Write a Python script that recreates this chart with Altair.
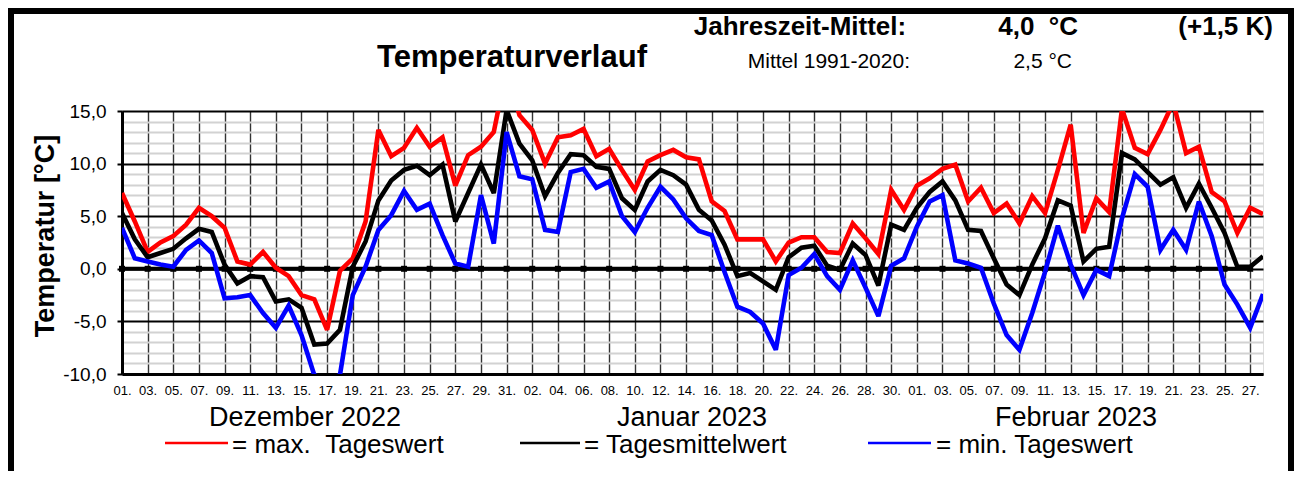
import altair as alt
import pandas as pd

# ---------------- data ----------------
days = list(range(1, 91))  # 01.12.2022 ... 28.02.2023

t_max = [7.2, 4.5, 1.6, 2.5, 3.1, 4.2, 5.8, 5.0, 3.9, 0.7,
         0.4, 1.6, 0.1, -0.7, -2.5, -2.9, -5.8, -0.2, 1.0, 4.5,
         13.2, 10.7, 11.5, 13.4, 11.6, 12.5, 7.9, 10.8, 11.6, 13.0,
         19.0, 14.6, 13.2, 10.0, 12.5, 12.7, 13.3, 10.7, 11.4, 9.4,
         7.5, 10.2, 10.8, 11.3, 10.6, 10.4, 6.4, 5.5, 2.8, 2.8,
         2.8, 0.7, 2.5, 3.0, 3.0, 1.6, 1.5, 4.3, 2.9, 1.4,
         7.5, 5.6, 7.9, 8.6, 9.5, 9.9, 6.4, 7.7, 5.3, 6.2,
         4.3, 6.9, 5.3, 9.4, 13.7, 3.4, 6.7, 5.4, 15.2, 11.5,
         10.9, 13.2, 15.8, 11.0, 11.6, 7.3, 6.4, 3.4, 5.8, 5.2]

t_mean = [5.3, 2.8, 1.1, 1.5, 1.9, 2.9, 3.8, 3.5, 0.4, -1.4,
          -0.7, -0.8, -3.1, -2.9, -3.7, -7.2, -7.1, -5.8, 0.2, 2.6,
          6.5, 8.4, 9.4, 9.8, 8.9, 9.9, 4.5, 7.2, 9.9, 7.2,
          15.1, 11.9, 10.3, 6.9, 9.1, 10.9, 10.8, 9.7, 9.5, 6.7,
          5.6, 8.3, 9.4, 8.9, 8.0, 5.6, 4.6, 2.3, -0.7, -0.4,
          -1.2, -2.0, 1.1, 2.0, 2.2, 0.3, -0.1, 2.4, 1.3, -1.6,
          4.2, 3.7, 5.8, 7.3, 8.3, 6.5, 3.7, 3.6, 1.0, -1.5,
          -2.5, 0.4, 2.9, 6.5, 6.0, 0.7, 1.9, 2.1, 11.0, 10.4,
          9.2, 8.0, 8.7, 5.8, 8.1, 5.8, 3.4, 0.2, 0.2, 1.2]

t_min = [3.9, 1.0, 0.7, 0.4, 0.2, 1.8, 2.7, 1.5, -2.8, -2.7,
         -2.5, -4.2, -5.6, -3.5, -6.3, -10.1, -10.6, -10.1, -2.5, 0.2,
         3.7, 5.1, 7.4, 5.6, 6.2, 3.2, 0.5, 0.2, 7.0, 2.4,
         13.0, 8.8, 8.5, 3.7, 3.5, 9.2, 9.5, 7.7, 8.3, 5.0,
         3.5, 5.8, 7.8, 6.6, 4.8, 3.6, 3.2, -0.3, -3.6, -4.1,
         -5.2, -7.7, -0.6, 0.1, 1.4, -0.7, -2.0, 0.8, -1.8, -4.5,
         0.3, 1.0, 4.0, 6.4, 7.0, 0.8, 0.5, 0.1, -3.3, -6.3,
         -7.7, -4.2, -0.3, 4.1, 0.4, -2.5, -0.1, -0.7, 4.8, 9.0,
         7.8, 1.8, 3.7, 1.8, 6.4, 3.1, -1.5, -3.4, -5.6, -2.4]

tick_days = list(range(1, 90, 2))
tick_labels = ["01.", "03.", "05.", "07.", "09.", "11.", "13.", "15.", "17.", "19.",
               "21.", "23.", "25.", "27.", "29.", "31.", "02.", "04.", "06.", "08.",
               "10.", "12.", "14.", "16.", "18.", "20.", "22.", "24.", "26.", "28.",
               "30.", "01.", "03.", "05.", "07.", "09.", "11.", "13.", "15.", "17.",
               "19.", "21.", "23.", "25.", "27."]
y_ticks = list(range(-10, 16))

months = ["Dezember 2022", "Januar 2023", "Februar 2023"]
legend_texts = ["= max.\u00a0\u00a0Tageswert", "= Tagesmittelwert", "= min. Tageswert"]
colors = ["#ff0000", "#000000", "#0000ff"]

# ---------------- layout ----------------
FONT = "Liberation Sans"
W, H = 1141, 263
OX, OY = 122, 111  # page position of plot origin

df = pd.DataFrame({"day": days, "tmax": t_max, "tmean": t_mean, "tmin": t_min})
zero_df = pd.DataFrame({"day": tick_days, "z": [0] * len(tick_days)})

label_arr = "[" + ",".join("'" + t + "'" for t in tick_labels) + "]"

x_axis = alt.Axis(
    values=tick_days, grid=True, gridColor="#333333", gridWidth=1.4,
    ticks=False, domain=True, domainColor="black", domainWidth=3,
    labelExpr=label_arr + "[(datum.value - 1) / 2]",
    labelFont=FONT, labelFontSize=13, labelColor="black", labelPadding=10,
    labelOverlap=False, labelFlush=False, title=None,
)
major = "datum.value % 5 === 0"
y_axis = alt.Axis(
    values=y_ticks, grid=True,
    gridColor={"condition": {"test": major, "value": "black"}, "value": "#d2d2d2"},
    gridWidth={"condition": {"test": major, "value": 2}, "value": 1.8},
    tickColor={"condition": {"test": major, "value": "black"}, "value": "transparent"},
    tickSize=5, tickWidth=2,
    domain=True, domainColor="black", domainWidth=3,
    labelExpr=major + " ? (datum.value < 0 ? '-' : '') + abs(datum.value) + ',0' : ''",
    labelFont=FONT, labelFontSize=19, labelColor="black", labelPadding=11,
    labelOverlap=False, labelFlush=False, title=None,
)
x_enc = alt.X("day:Q", scale=alt.Scale(domain=[1, 90], nice=False, zero=False), axis=x_axis)


def y_enc(field):
    return alt.Y(field + ":Q", scale=alt.Scale(domain=[-10, 15], nice=False, zero=False), axis=y_axis)


def series(field, color):
    return alt.Chart(df).mark_line(color=color, strokeWidth=4.6, clip=True,
                                   strokeJoin="miter", strokeMiterLimit=3).encode(x=x_enc, y=y_enc(field))


zero_line = alt.Chart(zero_df).mark_line(color="black", strokeWidth=4).encode(x=x_enc, y=y_enc("z"))
zero_pts = alt.Chart(zero_df).mark_point(shape="square", filled=True, size=36, color="black",
                                         opacity=1).encode(x=x_enc, y=y_enc("z"))

one = pd.DataFrame({"a": [0]})


def txt(s, px, py, size, bold=False, align="center", angle=0):
    return alt.Chart(one).mark_text(
        text=s, font=FONT, fontSize=size, fontWeight="bold" if bold else "normal",
        align=align, baseline="middle", angle=angle, color="black",
    ).encode(x=alt.value(px - OX), y=alt.value(py - OY))


def hline(x1, x2, py, color, w):
    return alt.Chart(one).mark_rule(color=color, strokeWidth=w).encode(
        x=alt.value(x1 - OX), x2=alt.value(x2 - OX), y=alt.value(py - OY))


frame = alt.Chart(one).mark_rect(fill="transparent", stroke="black", strokeWidth=6).encode(
    x=alt.value(11 - OX), x2=alt.value(1291 - OX),
    y=alt.value(11 - OY), y2=alt.value(490 - OY))

annotations = [
    txt("Temperaturverlauf", 512, 58, 31, bold=True),
    txt("Jahreszeit-Mittel:", 800, 27, 26, bold=True),
    txt("4,0\u00a0 °C", 1078, 27, 26, bold=True, align="right"),
    txt("(+1,5 K)", 1273, 27, 26, bold=True, align="right"),
    txt("Mittel 1991-2020:", 910, 62, 21, align="right"),
    txt("2,5 °C", 1072, 62, 21, align="right"),
    txt("Temperatur [°C]", 46, 236, 27, bold=True, angle=270),
    txt(months[0], 305, 418, 27),
    txt(months[1], 692, 418, 27),
    txt(months[2], 1076, 418, 27),
    hline(165, 228, 443, colors[0], 2.5),
    hline(520, 580, 443, colors[1], 2.5),
    hline(868, 931, 443, colors[2], 2.5),
    txt(legend_texts[0], 232, 445, 26, align="left"),
    txt(legend_texts[1], 584, 445, 26, align="left"),
    txt(legend_texts[2], 936, 445, 26, align="left"),
    frame,
]

chart = alt.layer(
    zero_line, zero_pts,
    series("tmax", colors[0]), series("tmean", colors[1]), series("tmin", colors[2]),
    *annotations,
).properties(
    width=W, height=H,
    autosize=alt.AutoSizeParams(type="none"),
    padding={"left": 114, "top": 103, "right": 31, "bottom": 97},
    background="white",
).configure_view(
    stroke="black", strokeWidth=3,
).configure(font=FONT)

chart.save("out.html", embed_options={"renderer": "svg", "actions": False})
